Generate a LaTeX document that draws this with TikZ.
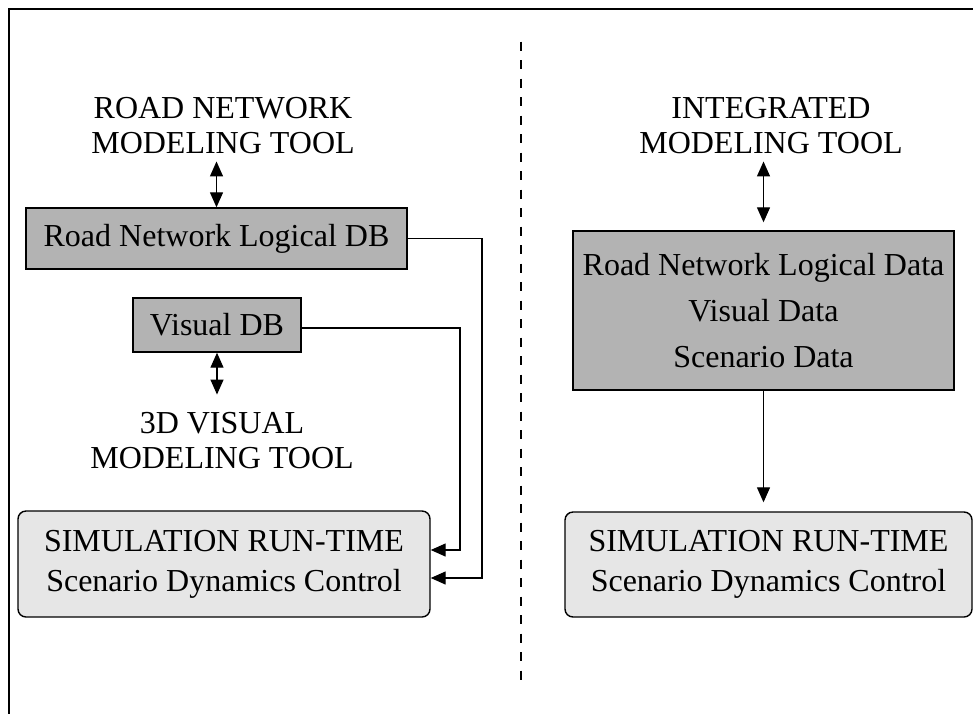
\documentclass[tikz,border=0pt]{standalone}
\usepackage{fontspec}
\setmainfont{Liberation Serif}
\usetikzlibrary{arrows.meta,calc}
\definecolor{dbgray}{RGB}{179,179,179}
\definecolor{simgray}{RGB}{230,230,230}
\tikzset{
  lbl/.style={align=center,inner sep=6pt,font=\fontsize{32}{35}\selectfont},
  dbbox/.style={draw,line width=1.4pt,fill=dbgray,align=center,inner sep=0pt,font=\fontsize{32}{46}\selectfont},
  simbox/.style={draw,line width=1.4pt,fill=simgray,rounded corners=8pt,align=center,inner sep=0pt,font=\fontsize{32}{40}\selectfont},
  conn/.style={line width=1.3pt},
  arr/.style={conn,-{Triangle[length=15pt,width=13pt]}},
  dbl/.style={conn,{Triangle[length=15pt,width=13pt]}-{Triangle[length=15pt,width=13pt]}},
  frame/.style={line width=2.5pt},
  divider/.style={line width=2pt,dash pattern=on 9pt off 9.5pt}
}
\begin{document}
\begin{tikzpicture}[x=1pt,y=-1pt]
\useasboundingbox (0,0) rectangle (973,713);
% frame (top and left edges visible)
\coordinate (ftl) at (9,9);
\coordinate (ftr) at (975,9);
\coordinate (fbl) at (9,715);
\draw[frame] (ftr) -- (ftl) -- (fbl);
% divider
\coordinate (dtop) at (521,41.7);
\coordinate (dbot) at (521,688);
\draw[divider] (dtop) -- (dbot);

% left side
\node[lbl] (rtool) at (223,126) {ROAD NETWORK\\MODELING TOOL};
\node[dbbox,minimum width=381pt,minimum height=61pt] (roaddb) at (216.5,238.5) {Road Network Logical DB};
\node[dbbox,minimum width=168pt,minimum height=54pt] (vdb) at (217,325) {Visual DB};
\node[lbl] (vtool) at (222,441) {3D VISUAL\\MODELING TOOL};
\node[simbox,minimum width=412pt,minimum height=106pt] (lsim) at (224,564) {SIMULATION RUN-TIME\\Scenario Dynamics Control};

\draw[dbl] ([yshift=-1pt]rtool.south -| roaddb.north) -- (roaddb.north);
\draw[dbl] (vdb.south) -- ([yshift=12pt]vtool.north -| vdb.south);

\coordinate (cr) at (482,0);
\coordinate (cv) at (460,0);
\draw[arr] (roaddb.east) -- (roaddb.east -| cr) -- ([yshift=-14pt]lsim.east -| cr) -- ([yshift=-14pt]lsim.east);
\draw[arr] ([yshift=-3pt]vdb.east) -- ([yshift=-3pt]vdb.east -| cv) -- ([yshift=14pt]lsim.east -| cv) -- ([yshift=14pt]lsim.east);

% right side
\node[lbl] (itool) at (771,126) {INTEGRATED\\MODELING TOOL};
\node[dbbox,minimum width=381pt,minimum height=159pt] (big) at (763.5,310.5) {Road Network Logical Data\\Visual Data\\Scenario Data};
\node[simbox,minimum width=407pt,minimum height=105pt] (rsim) at (768.5,564.5) {SIMULATION RUN-TIME\\Scenario Dynamics Control};

\draw[dbl,shorten >=8pt] ([yshift=-1pt]itool.south -| big.north) -- (big.north);
\draw[arr,shorten >=9pt] (big.south) -- (rsim.north -| big.south);
\end{tikzpicture}
\end{document}
